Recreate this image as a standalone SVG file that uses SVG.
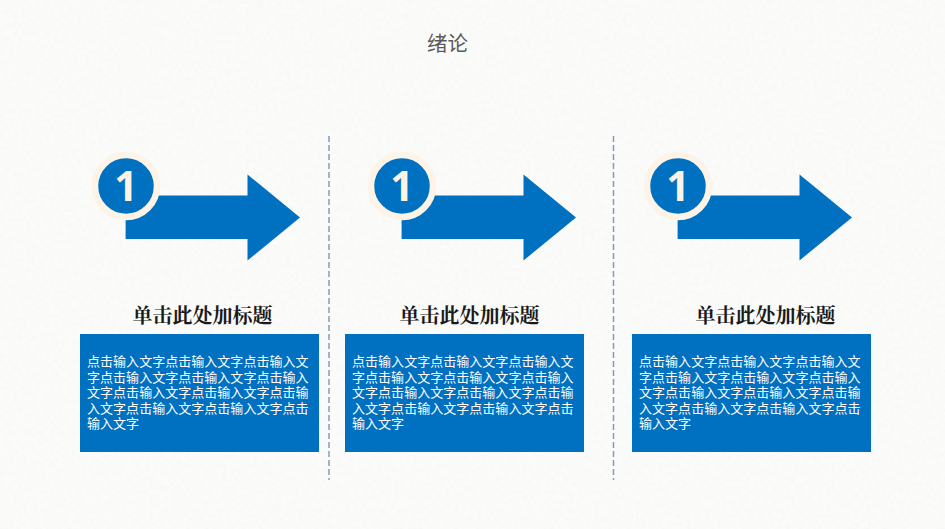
<svg xmlns="http://www.w3.org/2000/svg" width="945" height="529" viewBox="0 0 945 529">
<style>
.arrow{fill:#0070c0}
.ring{fill:#0070c0;stroke:#fdf3e7;stroke-width:6.500}
.num{font:bold 41px "Open Sans","Noto Sans",sans-serif;fill:#fdf3e7;text-anchor:middle}
.head{font:bold 20px "Noto Serif CJK SC","Noto Sans CJK SC",serif;fill:#1a1a1a;text-anchor:middle}
.box{fill:#0070c0}
.body{font:13.04px "Noto Sans CJK SC",sans-serif;fill:#fff}
.div{stroke:#7f9dc0;stroke-width:1.5;stroke-dasharray:6 3;fill:none}
</style>
<defs>
<filter id="paper" x="0" y="0" width="100%" height="100%"><feTurbulence type="fractalNoise" baseFrequency="0.22" numOctaves="4" seed="9"/><feColorMatrix values="0 0 0 0 0.92 0 0 0 0 0.92 0 0 0 0 0.91 1.4 0 0 0 -0.55"/></filter>
<g id="arrowShape"><path class="arrow" d="M125.600 195.500H247.500V174.500L300 217.500L247.500 260.500V239H125.600Z"/><circle class="ring" cx="126" cy="186" r="31"/><text class="num" x="126" y="201">1</text></g>
</defs>
<rect width="945" height="529" fill="#fbfbfa"/>
<rect width="945" height="529" filter="url(#paper)"/>
<text id="title" x="447.500" y="51" style="font:20.500px 'Noto Sans CJK SC',sans-serif;fill:#595959;text-anchor:middle">绪论</text>
<g id="connectors"><path class="div" d="M329 136V480"/><path class="div" d="M613.500 136V480"/></g>
<g id="node1"><use href="#arrowShape"/>
<text class="head" x="202.500" y="323">单击此处加标题</text><rect class="box" x="80" y="334" width="239" height="118"/>
<text class="body"><tspan x="87" y="366">点击输入文字点击输入文字点击输入文</tspan><tspan x="87" y="381.500">字点击输入文字点击输入文字点击输入</tspan><tspan x="87" y="397">文字点击输入文字点击输入文字点击输</tspan><tspan x="87" y="412.500">入文字点击输入文字点击输入文字点击</tspan><tspan x="87" y="428">输入文字</tspan></text></g>
<g id="node2"><use href="#arrowShape" x="276"/>
<text class="head" x="469.500" y="323">单击此处加标题</text><rect class="box" x="345" y="334" width="239" height="118"/>
<text class="body"><tspan x="352" y="366">点击输入文字点击输入文字点击输入文</tspan><tspan x="352" y="381.500">字点击输入文字点击输入文字点击输入</tspan><tspan x="352" y="397">文字点击输入文字点击输入文字点击输</tspan><tspan x="352" y="412.500">入文字点击输入文字点击输入文字点击</tspan><tspan x="352" y="428">输入文字</tspan></text></g>
<g id="node3"><use href="#arrowShape" x="552"/>
<text class="head" x="765.500" y="323">单击此处加标题</text><rect class="box" x="632" y="334" width="239" height="118"/>
<text class="body"><tspan x="639" y="366">点击输入文字点击输入文字点击输入文</tspan><tspan x="639" y="381.500">字点击输入文字点击输入文字点击输入</tspan><tspan x="639" y="397">文字点击输入文字点击输入文字点击输</tspan><tspan x="639" y="412.500">入文字点击输入文字点击输入文字点击</tspan><tspan x="639" y="428">输入文字</tspan></text></g>
</svg>
